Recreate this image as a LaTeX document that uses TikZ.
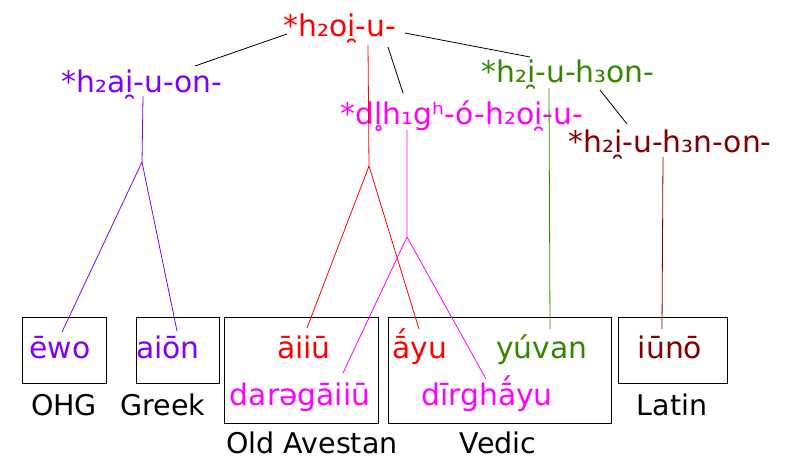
\documentclass[tikz,border=0pt]{standalone}
\usepackage{fontspec}
\setmainfont{DejaVu Sans}
\definecolor{cpurple}{RGB}{128,0,255}
\definecolor{cgreen}{RGB}{51,136,0}
\definecolor{cdred}{RGB}{128,0,0}
\definecolor{cred}{RGB}{255,0,0}
\definecolor{cmag}{RGB}{255,0,255}
\tikzset{
  word/.style={anchor=base, inner sep=0pt, font=\fontsize{29.8}{35}\selectfont},
  lang/.style={anchor=base, inner sep=0pt, font=\fontsize{28.5}{33}\selectfont, text=black},
  langbox/.style={draw=black, line width=1pt, inner sep=0pt},
  conn/.style={line width=0.8pt},
}
\begin{document}
\begin{tikzpicture}[x=1pt,y=-1pt]
\useasboundingbox (0,0) rectangle (792,465);
% proto forms
\node[word, text=cred] (root) at (340,37) {*h₂oi̯-u-};
\node[word, text=cpurple] (pgmc) at (142,93) {*h₂ai̯-u-on-};
\node[word, text=cgreen] (green) at (568,83) {*h₂i̯-u-h₃on-};
\node[word, text=cmag] (comp) at (462,125) {*dl̥h₁gʰ-ó-h₂oi̯-u-};
\node[word, text=cdred] (lat) at (670,153) {*h₂i̯-u-h₃n-on-};
% boxes
\node[langbox, minimum width=84pt, minimum height=66pt] (bOHG) at (64,350) {};
\node[langbox, minimum width=83pt, minimum height=66pt] (bGreek) at (177.5,350) {};
\node[langbox, minimum width=154pt, minimum height=106pt] (bAv) at (301,370) {};
\node[langbox, minimum width=223pt, minimum height=106pt] (bVed) at (499.5,370) {};
\node[langbox, minimum width=109pt, minimum height=66pt] (bLat) at (672.5,350) {};
% attested forms
\node[word, text=cpurple] (ewo) at (60,358) {ēwo};
\node[word, text=cpurple] (aion) at (168,358) {aiōn};
\node[word, text=cred] (aiiu) at (304,358) {āiiū};
\node[word, text=cmag] (dareg) at (300,405) {darəgāiiū};
\node[word, text=cred] (ayu) at (420,358) {ā́yu};
\node[word, text=cgreen] (yuvan) at (542,358) {yúvan};
\node[word, text=cmag] (dirgh) at (487,405) {dīrghā́yu};
\node[word, text=cdred] (iuno) at (670,358) {iūnō};
% language labels
\node[lang] (lOHG) at (64,415) {OHG};
\node[lang] (lGreek) at (163,415) {Greek};
\node[lang] (lAv) at (312,453) {Old Avestan};
\node[lang] (lVed) at (498,453) {Vedic};
\node[lang] (lLat) at (672,415) {Latin};
% connector points
\coordinate (rL) at (287,34);
\coordinate (pT) at (195,66);
\coordinate (rR) at (405,33);
\coordinate (gT) at (530,57);
\coordinate (rM) at (388,47);
\coordinate (cT) at (403,93);
\coordinate (gR) at (600,90);
\coordinate (lT) at (627,124);
\coordinate (rV) at (368,45);
\coordinate (rJ) at (369,166);
\coordinate (aiiuT) at (307,328);
\coordinate (ayuT) at (419,329);
\coordinate (cV) at (407,130);
\coordinate (cJ) at (407,237);
\coordinate (daregT) at (343,373);
\coordinate (dirghT) at (486,379);
\coordinate (pV) at (143,96);
\coordinate (pJ) at (142,162);
\coordinate (ewoT) at (62,332);
\coordinate (aionT) at (177,331);
\coordinate (gV) at (549,88);
\coordinate (yuvanT) at (550,329);
\coordinate (lV) at (663,157);
\coordinate (iunoT) at (662,329);
% connectors
\draw[conn, black] (rL) -- (pT);
\draw[conn, black] (rR) -- (gT);
\draw[conn, black] (rM) -- (cT);
\draw[conn, black] (gR) -- (lT);
\draw[conn, cred] (rV) -- (rJ) -- (aiiuT);
\draw[conn, cred] (rJ) -- (ayuT);
\draw[conn, cmag] (cV) -- (cJ) -- (daregT);
\draw[conn, cmag] (cJ) -- (dirghT);
\draw[conn, cpurple] (pV) -- (pJ) -- (ewoT);
\draw[conn, cpurple] (pJ) -- (aionT);
\draw[conn, cgreen] (gV) -- (yuvanT);
\draw[conn, cdred] (lV) -- (iunoT);
\end{tikzpicture}
\end{document}
